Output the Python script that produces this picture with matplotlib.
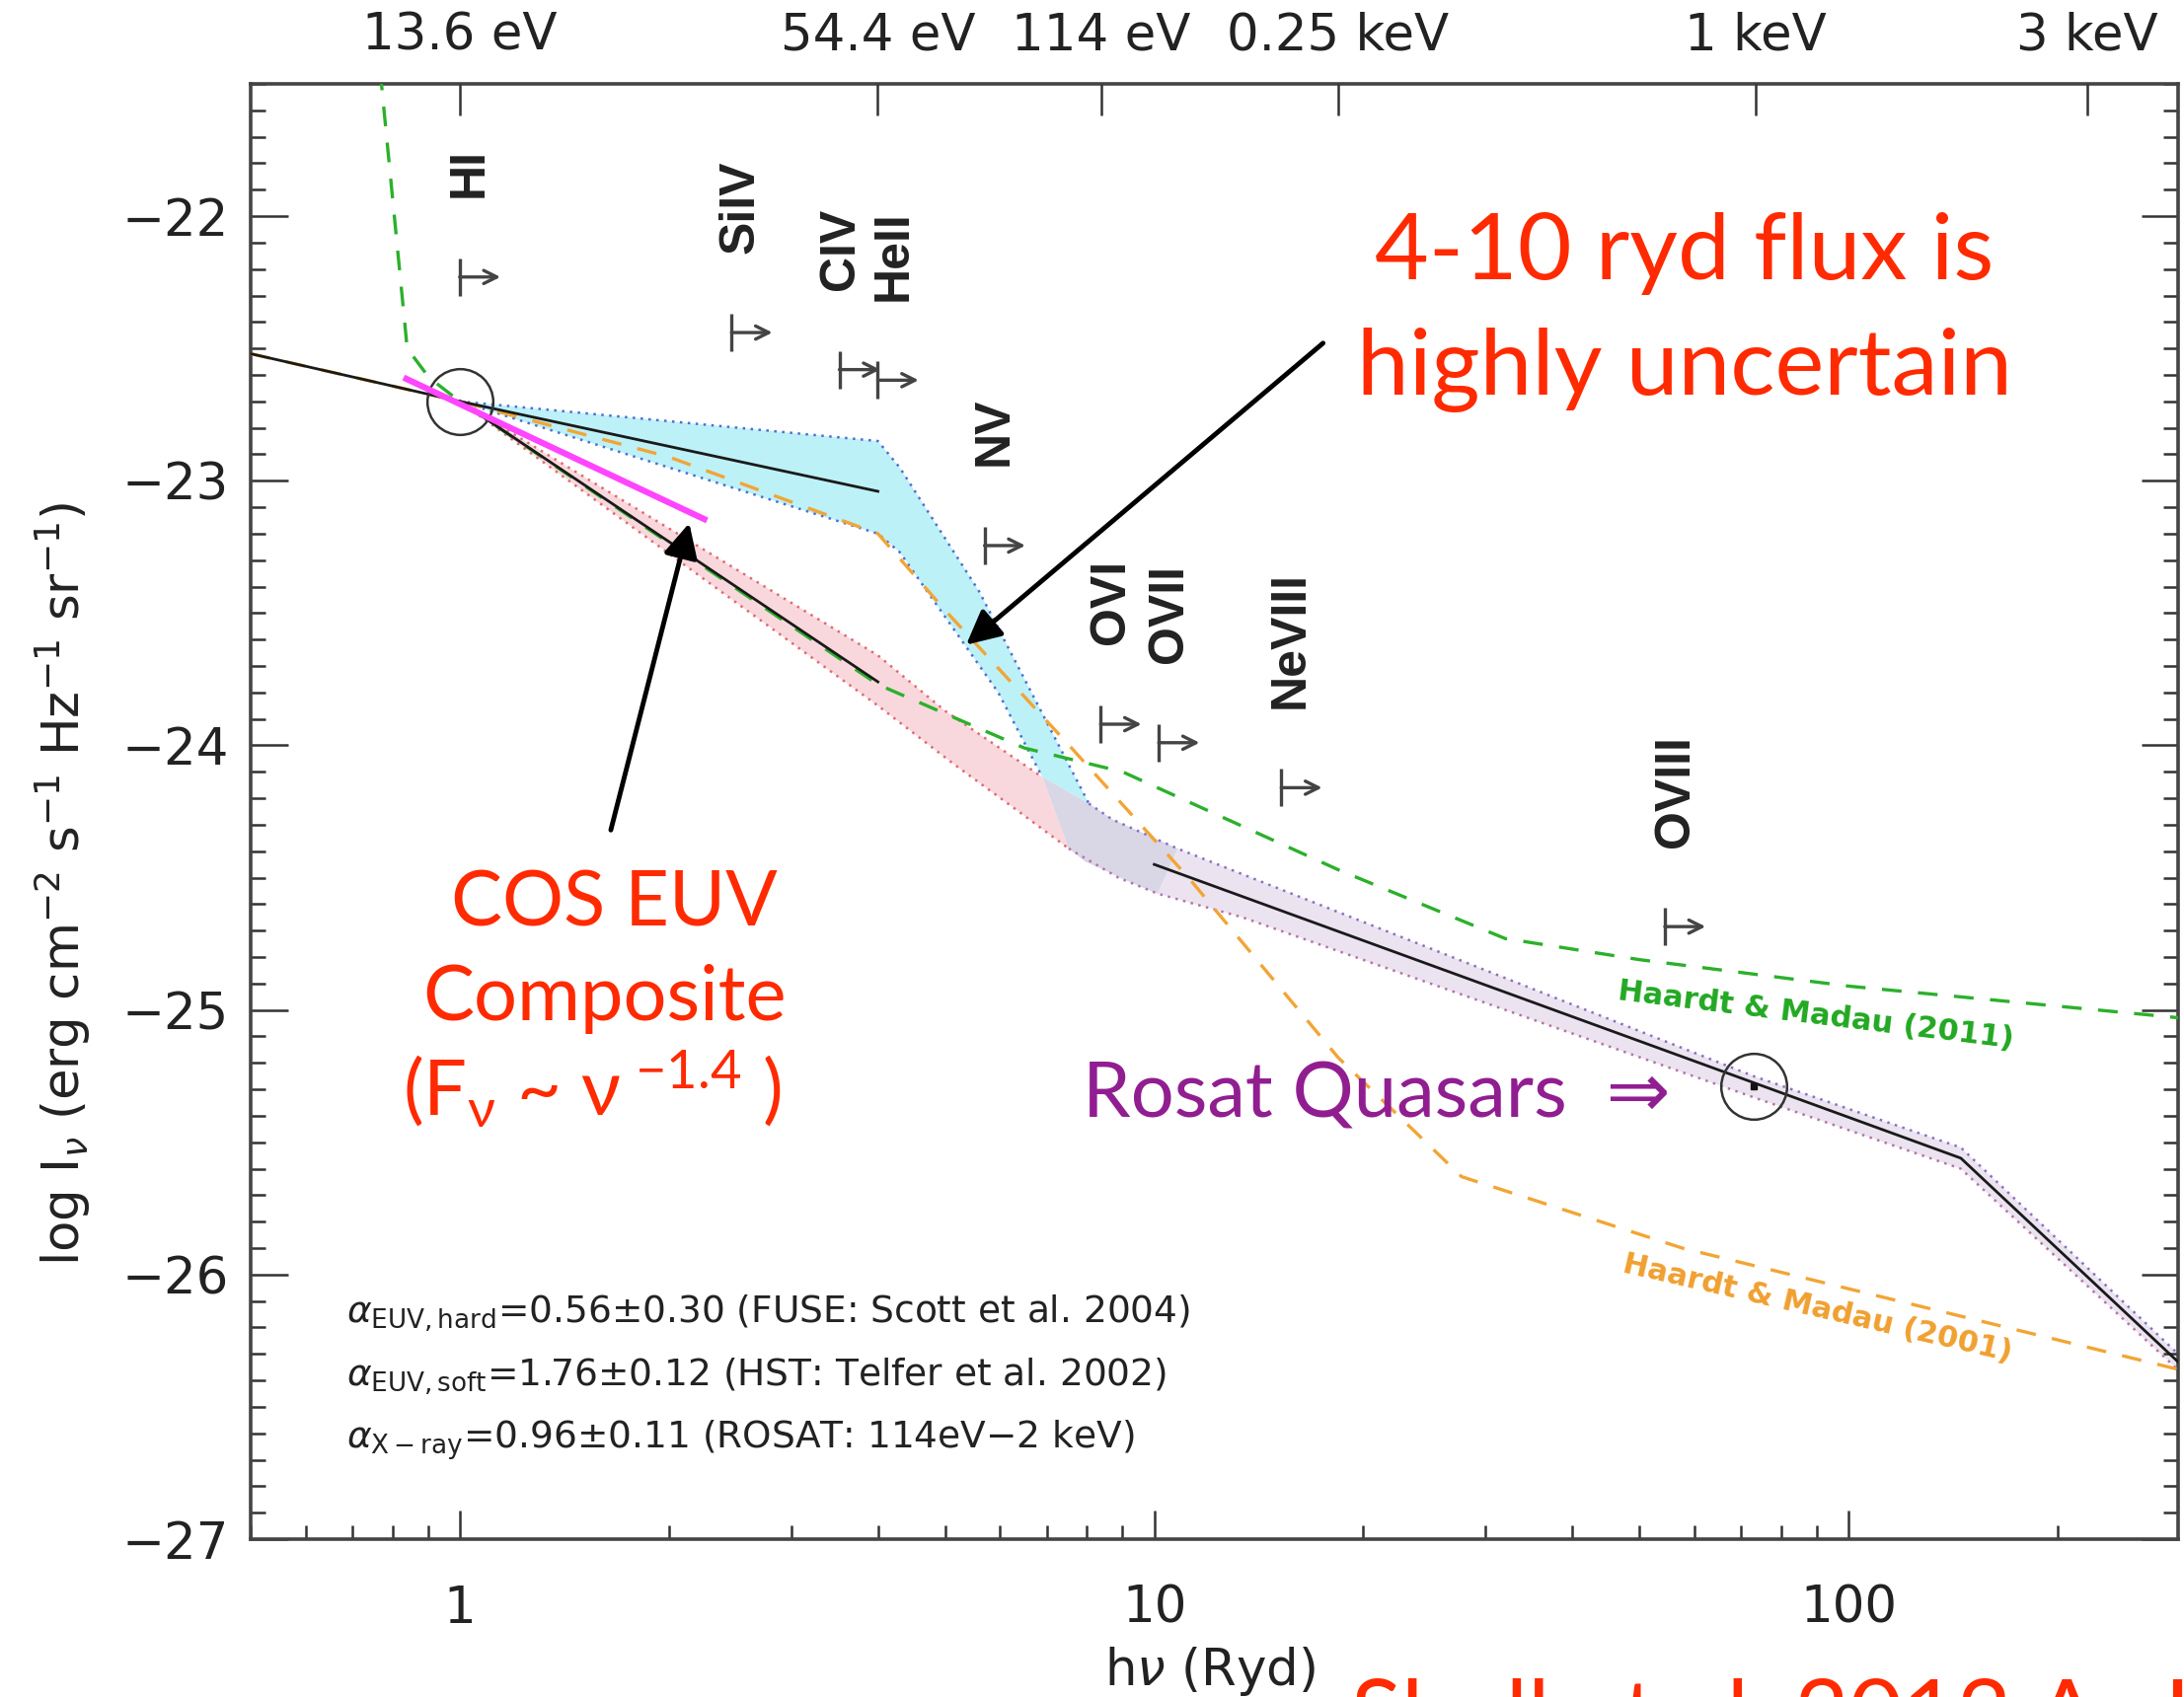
import numpy as np
import matplotlib
matplotlib.use('Agg')
import matplotlib.pyplot as plt
from matplotlib.ticker import MultipleLocator, LogLocator, NullFormatter, NullLocator

plt.rcParams['font.family'] = ['DejaVu Sans']
plt.rcParams['mathtext.fontset'] = 'dejavusans'
plt.rcParams['mathtext.rm'] = 'Lato'
plt.rcParams['mathtext.it'] = 'Lato:italic'
plt.rcParams['mathtext.bf'] = 'Lato:bold'
plt.rcParams['mathtext.sf'] = 'Lato'
plt.rcParams['mathtext.fallback'] = 'stixsans'

# ---- composite continuum, log I_nu vs h nu [Ryd] ----
fuv_x = [0.5, 1.0]
fuv_y = [-22.52, -22.70]
hard_x = [1.0, 4.0]
hard_y = [-22.70, -23.04]
soft_x = [1.0, 4.0]
soft_y = [-22.70, -23.76]
xray_x = [10.0, 145.0, 298.0]
xray_y = [-24.45, -25.56, -26.33]

# circled normalisation points (13.6 eV and 1 keV)
anchor_x = [1.0, 72.9]
anchor_y = [-22.70, -25.29]

# uncertainty envelopes
hard_up_x = [1.0, 4.0, 4.3, 5.6, 8.05]
hard_up_y = [-22.70, -22.85, -22.95, -23.42, -24.22]
hard_lo_x = [1.0, 4.0, 4.3, 5.96, 6.9]
hard_lo_y = [-22.70, -23.20, -23.27, -23.80, -24.12]
soft_up_x = [1.0, 4.0, 5.0, 6.9]
soft_up_y = [-22.70, -23.66, -23.87, -24.12]
soft_lo_x = [1.0, 4.0, 5.14, 6.38, 7.53]
soft_lo_y = [-22.70, -23.85, -24.07, -24.25, -24.39]
join_x = [6.9, 8.05, 8.7, 10.8, 10.1, 7.96, 7.53]
join_y = [-24.12, -24.22, -24.28, -24.39, -24.56, -24.44, -24.39]
xband_up_x = [8.05, 8.7, 10.8, 72.9, 145.0, 298.0]
xband_up_y = [-24.22, -24.28, -24.39, -25.25, -25.52, -26.30]
xband_lo_x = [7.53, 8.88, 10.1, 13.4, 72.9, 145.0, 298.0]
xband_lo_y = [-24.39, -24.50, -24.56, -24.65, -25.33, -25.60, -26.36]

# Haardt & Madau backgrounds
hm11_x = [0.768, 0.840, 0.903, 1.0, 4.0, 6.5, 9.0, 18.4, 32.0, 50.0, 100.0, 300.0]
hm11_y = [-21.45, -22.50, -22.61, -22.70, -23.77, -24.01, -24.10, -24.47, -24.73, -24.81, -24.91, -25.03]
hm01_x = [0.5, 1.0, 2.0, 4.0, 5.0, 7.6, 11.2, 18.4, 27.7, 57.6, 300.0]
hm01_y = [-22.52, -22.70, -22.91, -23.20, -23.49, -24.01, -24.50, -25.18, -25.63, -25.90, -26.36]

# COS EUV slope segment
cos_x = [0.83, 2.27]
cos_y = [-22.61, -23.15]

# ion production thresholds and limits
ion_names = ['HI', 'SiIV', 'CIV', 'HeII', 'NV', 'OVI', 'OVII', 'NeVIII', 'OVIII']
ion_ev = [13.6, 33.5, 47.9, 54.4, 77.5, 113.9, 138.1, 207.3, 739.3]
ion_lim = [-22.23, -22.44, -22.58, -22.62, -23.245, -23.92, -23.99, -24.16, -24.685]
label_dx = [7, 7, 1, 12, 7, 8, 8, 7, 8]

# top axis energies
top_ev = [13.6, 54.4, 114.0, 250.0, 1000.0, 3000.0]
top_labels = ['13.6 eV', '54.4 eV', '114 eV', '0.25 keV', '1 keV', '3 keV']

RYD_EV = 13.6057

fig = plt.figure(figsize=(22.13, 17.20), dpi=100)
ax = fig.add_axes([0.1148, 0.0930, 0.8825, 0.8576])
ax.set_xscale('log')
ax.set_xlim(0.5, 298)
ax.set_ylim(-27, -21.5)

# shaded envelopes
cyan_px = np.concatenate([hard_up_x, hard_lo_x[::-1]])
cyan_py = np.concatenate([hard_up_y, hard_lo_y[::-1]])
pink_px = np.concatenate([soft_up_x, soft_lo_x[::-1]])
pink_py = np.concatenate([soft_up_y, soft_lo_y[::-1]])
xb_px = np.concatenate([xband_up_x, xband_lo_x[::-1]])
xb_py = np.concatenate([xband_up_y, xband_lo_y[::-1]])
ax.fill(xb_px, xb_py, color='#ebe4f0', lw=0, zorder=1)
ax.fill(cyan_px, cyan_py, color='#bdf1f8', lw=0, zorder=1)
ax.fill(pink_px, pink_py, color='#f9d8dd', lw=0, zorder=1)
ax.fill(join_x, join_y, color='#d9d6e6', lw=0, zorder=1)

dot = (0, (1, 2.2))
ax.plot(hard_up_x, hard_up_y, color='#4f6fd0', lw=1.8, ls=dot, zorder=2)
ax.plot(hard_lo_x, hard_lo_y, color='#4f6fd0', lw=1.8, ls=dot, zorder=2)
ax.plot(soft_up_x, soft_up_y, color='#e06a70', lw=1.8, ls=dot, zorder=2)
ax.plot(soft_lo_x, soft_lo_y, color='#e06a70', lw=1.8, ls=dot, zorder=2)
ax.plot(xband_up_x, xband_up_y, color='#8a70c0', lw=1.8, ls=dot, zorder=2)
ax.plot(xband_lo_x, xband_lo_y, color='#b872a8', lw=1.8, ls=dot, zorder=2)

# model backgrounds
ax.plot(hm11_x, hm11_y, color='#2bb02b', lw=2.4, dashes=(6, 5), zorder=3)
ax.plot(hm01_x, hm01_y, color='#f2a535', lw=2.4, dashes=(6, 5), zorder=3)

# composite power laws
for xs, ys in [(fuv_x, fuv_y), (hard_x, hard_y), (soft_x, soft_y), (xray_x, xray_y)]:
    ax.plot(xs, ys, color='#1a1a1a', lw=2.0, zorder=4)
ax.plot(anchor_x, anchor_y, 'o', mfc='none', mec='#333333', ms=48, mew=1.8, zorder=4)
ax.plot(anchor_x[1], anchor_y[1], 's', color='#111111', ms=5, zorder=4)

ax.plot(cos_x, cos_y, color='#ff45ff', lw=4.5, solid_capstyle='butt', zorder=5)

# ionisation thresholds with limit arrows
for name, ev, lim, dx in zip(ion_names, ion_ev, ion_lim, label_dx):
    xr = ev / RYD_EV
    ax.plot(xr, lim, marker='|', ms=28, mew=2.4, color='#444444', zorder=4)
    ax.annotate('', xy=(xr * 1.145, lim), xytext=(xr, lim),
                arrowprops=dict(arrowstyle='->', lw=2.4, color='#444444',
                                mutation_scale=24, shrinkA=0, shrinkB=0), zorder=4)
    ax.annotate(name, xy=(xr, lim), xytext=(dx, 58), textcoords='offset points',
                rotation=90, ha='center', va='bottom', fontsize=36,
                fontweight='bold', family=['Liberation Sans', 'DejaVu Sans'],
                color='#222222')

# model labels
ax.text(89.7, -25.02, 'Haardt & Madau (2011)', color='#22a822', fontsize=22,
        fontweight='bold', rotation=-7, ha='center', va='center', rotation_mode='anchor')
ax.text(90.0, -26.13, 'Haardt & Madau (2001)', color='#f0a030', fontsize=22,
        fontweight='bold', rotation=-13, ha='center', va='center', rotation_mode='anchor')

# spectral index summary
alpha_lines = [r'$\alpha_{\rm EUV,hard}$=0.56$\pm$0.30 (FUSE: Scott et al. 2004)',
               r'$\alpha_{\rm EUV,soft}$=1.76$\pm$0.12 (HST: Telfer et al. 2002)',
               r'$\alpha_{\rm X-ray}$=0.96$\pm$0.11 (ROSAT: 114eV$-$2 keV)']
for i, line in enumerate(alpha_lines):
    fig.text(0.1588, 1 - (950.5 + 44.7 * i) / 1219, line, fontsize=27,
             color='#222222', va='baseline', ha='left')

# axes styling
ax.set_xticks([1, 10, 100], labels=['1', '10', '100'])
ax.xaxis.set_minor_locator(LogLocator(base=10, subs=np.arange(2, 10), numticks=20))
ax.xaxis.set_minor_formatter(NullFormatter())
ax.yaxis.set_major_locator(MultipleLocator(1))
ax.yaxis.set_minor_locator(MultipleLocator(0.1))

ax2 = ax.twiny()
ax2.set_xscale('log')
ax2.set_xlim(ax.get_xlim())
ax2.set_xticks([e / RYD_EV for e in top_ev], labels=top_labels)
ax2.xaxis.set_minor_locator(NullLocator())
for sp in ax2.spines.values():
    sp.set_visible(False)

ax.tick_params(which='both', direction='in', right=True, color='#333333',
               labelcolor='#222222', width=1.8)
ax.tick_params(axis='y', which='major', length=27, pad=16, labelsize=37)
ax.tick_params(axis='y', which='minor', length=11)
ax.tick_params(axis='x', which='major', length=21, pad=33, labelsize=37)
ax.tick_params(axis='x', which='minor', length=10)
ax2.tick_params(axis='x', direction='in', length=23, width=1.8, pad=17,
                labelsize=37, color='#333333', labelcolor='#222222')
for sp in ax.spines.values():
    sp.set_linewidth(2.6)
    sp.set_color('#444444')

fig.text(0.0287, 0.4795, r'log I$_\nu$ (erg cm$^{-2}$ s$^{-1}$ Hz$^{-1}$ sr$^{-1}$)',
         rotation=90, ha='center', va='center', fontsize=37, color='#222222')
fig.text(0.5542, 0.0070, r'h$\nu$ (Ryd)', ha='center', va='baseline',
         fontsize=37, color='#222222')

# slide annotations
red = '#ff2a00'
sans = ['Lato', 'DejaVu Sans']
fig.text(0.7714, 0.8354, '4-10 ryd flux is', color=red, fontsize=68, family=sans,
         ha='center', va='baseline')
fig.text(0.7714, 0.7674, 'highly uncertain', color=red, fontsize=68, family=sans,
         ha='center', va='baseline')
fig.text(0.2813, 0.4545, 'COS EUV', color=red, fontsize=56, family=sans,
         ha='center', va='baseline')
fig.text(0.2768, 0.3987, 'Composite', color=red, fontsize=56, family=sans,
         ha='center', va='baseline')
fig.text(0.2710, 0.3429, r'(F$_{\mathrm{\nu}}$ ~ $\mathrm{\nu}^{\ \mathrm{-1.4}}$ )',
         color=red, fontsize=56, family=sans, math_fontfamily='custom',
         ha='center', va='baseline')
fig.text(0.4959, 0.3413, 'Rosat Quasars  \u21d2', color='#911e91', fontsize=56,
         family=sans, ha='left', va='baseline')
fig.text(0.6186, -0.0287, 'Shull et al. 2012 ApJ 752, 162', color=red, fontsize=68,
         family=sans, ha='left', va='baseline')

ax.annotate('', xy=(2.14, -23.16), xytext=(1.65, -24.32),
            arrowprops=dict(arrowstyle='-|>,head_length=0.6,head_width=0.3',
                            lw=3.5, color='black', mutation_scale=35,
                            shrinkA=0, shrinkB=0), zorder=6)
ax.annotate('', xy=(5.36, -23.62), xytext=(17.5, -22.48),
            arrowprops=dict(arrowstyle='-|>,head_length=0.6,head_width=0.3',
                            lw=3.5, color='black', mutation_scale=35,
                            shrinkA=0, shrinkB=0), zorder=6)

fig.savefig('out.png', dpi=100)
